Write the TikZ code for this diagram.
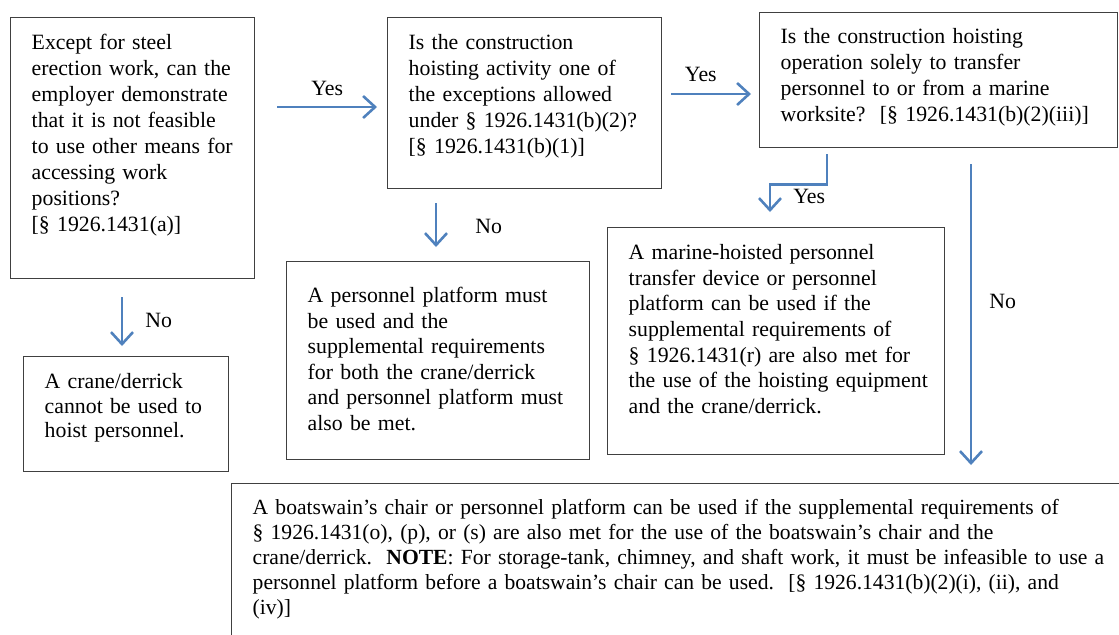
\documentclass[tikz,border=0pt]{standalone}
\usepackage{fontspec}
\setmainfont{Liberation Serif}
\usetikzlibrary{arrows.meta}
\definecolor{flowblue}{RGB}{79,129,189}

\begin{document}
\begin{tikzpicture}[x=0.5pt, y=-0.5pt,
        txt/.style={font=\fontsize{10.9pt}{13pt}\selectfont},
        box/.style n args={3}{draw=black!75, line width=0.7pt, anchor=north west, align=left, txt,
            inner sep=0pt, execute at begin node={\leftskip=10.5pt},
            text width=#1, text height=#2, text depth=#3},
        flow/.style={draw=flowblue, line width=1.3pt, -{Straight Barb[length=6pt, width=11pt, line width=1.3pt]}},
        lbl/.style={txt, inner sep=0pt}]
        \useasboundingbox (0,0) rectangle (1119,634);
        \clip (0,0) rectangle (1119,634);
        % questions
        \node[box={122pt}{16pt}{114.5pt}] (feas) at (10,17) {Except for steel\\ erection work, can the\\ employer demonstrate\\ that it is not feasible\\ to use other means for\\ accessing work\\ positions?\\ {[}§ 1926.1431(a)]};
        \node[box={137pt}{16pt}{69.5pt}] (excpt) at (387,17) {Is the construction\\ hoisting activity one of\\ the exceptions allowed\\ under § 1926.1431(b)(2)?\\ {[}§ 1926.1431(b)(1)]};
        \node[box={179pt}{15.5pt}{52pt}] (marine) at (759,12) {Is the construction hoisting\\ operation solely to transfer\\ personnel to or from a marine\\ worksite?\ \ [§ 1926.1431(b)(2)(iii)]};
        % outcomes
        \node[box={102.5pt}{16pt}{41.5pt}, font=\fontsize{10.9pt}{12.25pt}\selectfont] (nocrane) at (23,356) {A crane/derrick\\ cannot be used to\\ hoist personnel.};
        \node[box={151.5pt}{20.5pt}{78.5pt}, font=\fontsize{10.9pt}{12.75pt}\selectfont] (platf) at (286,261) {A personnel platform must\\ be used and the\\ supplemental requirements\\ for both the crane/derrick\\ and personnel platform must\\ also be met.};
        \node[box={168.5pt}{16pt}{97.5pt}, font=\fontsize{10.9pt}{12.8pt}\selectfont] (mhpt) at (607,227) {A marine-hoisted personnel\\ transfer device or personnel\\ platform can be used if the\\ supplemental requirements of\\ § 1926.1431(r) are also met for\\ the use of the hoisting equipment\\ and the crane/derrick.};
        \node[box={475pt}{15.5pt}{65.5pt}, font=\fontsize{10.8pt}{12.5pt}\selectfont] (chair) at (231,483) {A boatswain’s chair or personnel platform can be used if the supplemental requirements of\\ § 1926.1431(o), (p), or (s) are also met for the use of the boatswain’s chair and the\\ crane/derrick.\ \ \textbf{NOTE}: For storage-tank, chimney, and shaft work, it must be infeasible to use a\\ personnel platform before a boatswain’s chair can be used.\ \ [§ 1926.1431(b)(2)(i), (ii), and\\ (iv)]};
        % connectors
        \draw[flow] ([shift={(22,90)}]feas.north east) -- ([shift={(-10,90)}]excpt.north west)
            node[lbl, midway, above=5pt] {Yes};
        \draw[flow] ([shift={(9,77)}]excpt.north east) -- ([shift={(-8,82)}]marine.north west)
            node[lbl, pos=0.37, above=5.5pt] {Yes};
        \draw[flow] ([shift={(112,18)}]feas.south west) -- ([shift={(99,-10)}]nocrane.north west)
            node[lbl, pos=0.62, anchor=base west, xshift=11pt] {No};
        \draw[flow] ([shift={(49,14)}]excpt.south west) -- ([shift={(150,-14)}]platf.north west)
            node[lbl, pos=0.69, anchor=base west, xshift=19pt] {No};
        \draw[flow] ([shift={(68,6)}]marine.south west) -- ++(0,30) -| ([shift={(163,-15)}]mhpt.north west)
            node[lbl, anchor=base west, xshift=11pt, yshift=4.5pt] {Yes};
        \draw[flow] ([shift={(212,16)}]marine.south west) -- ([shift={(740,-18)}]chair.north west)
            node[lbl, pos=0.48, anchor=base west, xshift=8.5pt] {No};
\end{tikzpicture}
\end{document}
